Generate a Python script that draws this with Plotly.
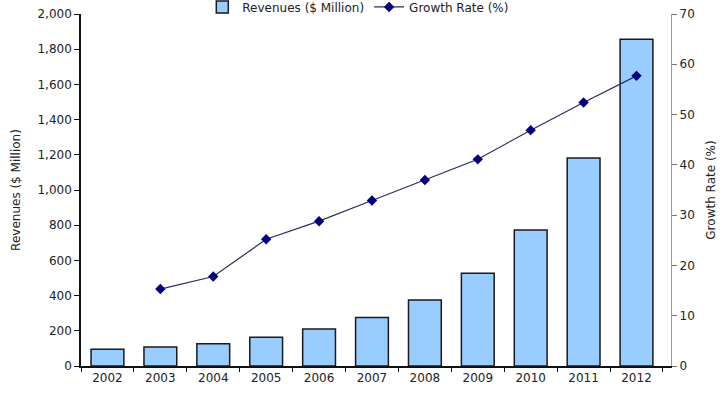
import plotly.graph_objects as go

years = ["2002", "2003", "2004", "2005", "2006", "2007",
         "2008", "2009", "2010", "2011", "2012"]
revenues = [95, 108, 127, 163, 210, 275, 375, 527, 773, 1182, 1856]
growth_years = years[1:]
growth_rate = [15.3, 17.8, 25.2, 28.8, 32.9, 37.0, 41.1, 46.9, 52.4, 57.7]

font_family = "DejaVu Sans, Verdana, sans-serif"
text_color = "#222222"

fig = go.Figure()

fig.add_trace(go.Bar(
    x=years, y=revenues,
    name="Revenues ($ Million)",
    marker=dict(color="#99CCFF", line=dict(color="#1a1a1a", width=1.5)),
    yaxis="y",
))

fig.add_trace(go.Scatter(
    x=growth_years, y=growth_rate,
    name="Growth Rate (%)",
    mode="lines+markers",
    line=dict(color="#2b2b5e", width=1.2),
    marker=dict(symbol="diamond", size=8, color="#000080"),
    yaxis="y2",
))

fig.update_layout(
    width=724, height=398,
    margin=dict(l=81, r=53, t=14, b=32, autoexpand=False),
    paper_bgcolor="white",
    plot_bgcolor="white",
    font=dict(family=font_family, size=12, color=text_color),
    bargap=0.38,
    showlegend=True,
    legend=dict(
        orientation="h",
        x=0.47, xanchor="center",
        y=1.02, yanchor="middle",
        bgcolor="rgba(0,0,0,0)",
        font=dict(size=12, color=text_color),
        itemwidth=30,
        tracegroupgap=0,
    ),
    xaxis=dict(
        type="category",
        showline=True, linecolor="#111111", linewidth=1.5,
        ticks="outside", tickson="boundaries", ticklen=4,
        tickcolor="#111111",
        showgrid=False,
        tickfont=dict(size=12, color=text_color),
    ),
    yaxis=dict(
        range=[0, 2000], dtick=200, tickformat=",",
        showline=True, linecolor="#111111", linewidth=1.5,
        ticks="outside", ticklen=5, tickcolor="#111111",
        showgrid=False, zeroline=False,
        title=dict(text="Revenues ($ Million)", standoff=14,
                   font=dict(size=12, color=text_color)),
        tickfont=dict(size=12, color=text_color),
    ),
    yaxis2=dict(
        range=[0, 70], dtick=10,
        overlaying="y", side="right",
        showline=True, linecolor="#999999", linewidth=1.2,
        ticks="outside", ticklen=5, tickcolor="#777777",
        showgrid=False, zeroline=False,
        title=dict(text="Growth Rate (%)", standoff=12,
                   font=dict(size=12, color=text_color)),
        tickfont=dict(size=12, color=text_color),
    ),
)

fig.write_html("out.html")
